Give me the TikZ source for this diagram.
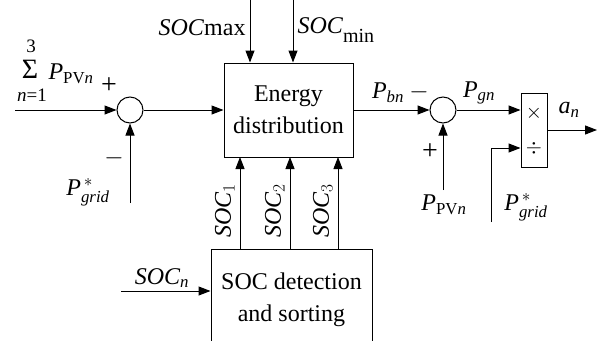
\documentclass[tikz,border=0pt]{standalone}
\usepackage{amsmath}
\usepackage{fontspec}
\setmainfont{Liberation Serif}
\usetikzlibrary{arrows.meta}

\begin{document}
\begin{tikzpicture}[x=1pt,y=-1pt,line width=1pt,
    arr/.style={-{Triangle[length=12pt,width=9pt]}},
    sumnode/.style={draw,circle,minimum size=26pt,inner sep=0pt},
    blk/.style={draw,rectangle,inner sep=0pt,align=center},
    lbl/.style={inner sep=0pt},
    sgn/.style={inner sep=0pt,font=\fontsize{28}{28}\selectfont}]
   \useasboundingbox (0,0) rectangle (597,340);
   \clip (0,0) rectangle (597,340);
   \fontsize{24}{32}\selectfont

   %blocks
   \node[sumnode] (sum1) at (130,110) {};
   \node[sumnode] (sum2) at (443,110) {};
   \node[blk,minimum width=129pt,minimum height=94pt] (energy) at (288.5,110) {Energy\\distribution};
   \node[blk,minimum width=161pt,minimum height=101pt] (sort) at (291.5,299.5) {SOC detection\\and sorting};
   \node[blk,minimum width=26pt,minimum height=74pt] (muldiv) at (534,130) {};
   \node[lbl] (mul) at (534,113) {\fontsize{20}{20}\selectfont$\times$};
   \node[lbl] (dv) at (534,148) {\fontsize{20}{20}\selectfont$\div$};

   %free ends
   \coordinate (pin) at (15,110);
   \coordinate (pgrid1) at (130,203);
   \coordinate (smax) at (250,0);
   \coordinate (smin) at (293,0);
   \coordinate (socn) at (121,291);
   \coordinate (ppv) at (443,190);
   \coordinate (pgrid2) at (491,222);
   \coordinate (aout) at (597,130);

   %edges
   \draw[arr] (pin) -- (sum1.west);
   \draw[arr] (pgrid1) -- (sum1.south);
   \draw[arr] (sum1.east) -- (energy.west);
   \draw[arr] (smax) -- (smax |- energy.north);
   \draw[arr] (smin) -- (smin |- energy.north);
   \foreach \x/\i in {240/1,290/2,338/3}{
     \draw[arr] (\x,249) -- (\x,157);
     \node[lbl,rotate=90,anchor=south] (soc\i) at (\x-5,211) {\textit{SOC}$_{\i}$};
   }
   \draw[arr] (socn) -- (socn -| sort.west);
   \draw[arr] (energy.east) -- (sum2.west);
   \draw[arr] (ppv) -- (sum2.south);
   \draw[arr] (sum2.east) -- (sum2.east -| muldiv.west);
   \draw[arr] (pgrid2) |- (muldiv.west |- dv);
   \draw[arr] (muldiv.east |- aout) -- (aout);

   %labels
   \node[lbl] (sig) at (30,69) {\fontsize{28}{28}\selectfont Σ};
   \node[lbl] (sig3) at (31,46) {\fontsize{19}{19}\selectfont 3};
   \node[lbl] (sig1) at (32,95) {\fontsize{19}{19}\selectfont\textit{n}=1};
   \node[lbl,anchor=west] (ssum) at (48,74) {$\textit{P}_{\textrm{PV}\textit{n}}$};
   \node[sgn] (p1) at (109,86) {+};
   \node[sgn] (m1) at (114,158) {$-$};
   \node[lbl] (lgrid1) at (88,192) {$\textit{P}^{\,*}_{\textit{grid}}$};
   \node[lbl,anchor=east] (lmax) at (246,28) {\textit{SOC}max};
   \node[lbl,anchor=west] (lmin) at (297,30) {\textit{SOC}\raisebox{-9pt}{\fontsize{20}{20}\selectfont min}};
   \node[lbl] (lsocn) at (162,278) {$\textit{SOC}_{\textit{n}}$};
   \node[lbl] (lbn) at (388,93) {$\textit{P}_{\textit{bn}}$};
   \node[sgn] (m2) at (419,92) {$-$};
   \node[lbl] (lgn) at (479,93) {$\textit{P}_{\textit{gn}}$};
   \node[sgn] (p2) at (430,152) {+};
   \node[lbl] (lpv) at (444,205) {$\textit{P}_{\textrm{PV}\textit{n}}$};
   \node[lbl] (lgrid2) at (526,207) {$\textit{P}^{\,*}_{\textit{grid}}$};
   \node[lbl] (lan) at (569,110) {$\textit{a}_{\textit{n}}$};

\end{tikzpicture}
\end{document}
